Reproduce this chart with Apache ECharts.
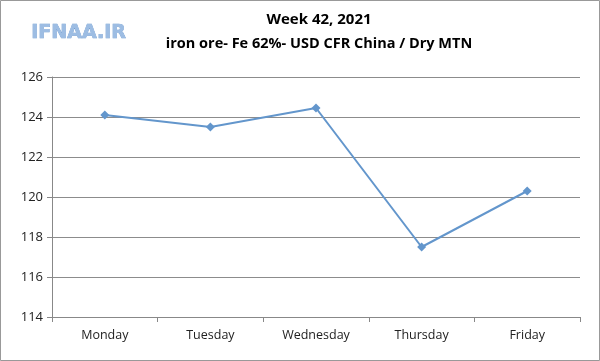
<!DOCTYPE html>
<html><head><meta charset="utf-8">
<script src="https://cdn.jsdelivr.net/npm/echarts@6/dist/echarts.min.js"></script>
<style>html,body{margin:0;padding:0;background:#fff}#c{width:600px;height:361px}</style>
</head><body><div id="c"></div>
<script>
const categories = ['Monday','Tuesday','Wednesday','Thursday','Friday'];
const values = [124.1, 123.5, 124.45, 117.5, 120.3];
const titleText = 'Week 42, 2021';
const subtitleText = 'iron ore- Fe 62%- USD CFR China / Dry MTN';
const logoText = 'IFNAA.IR';

const chart = echarts.init(document.getElementById('c'));
chart.setOption({
  animation:false,
  backgroundColor:'#fff',
  title:{
    text:titleText, subtext:subtitleText, left:314, top:7, textAlign:'center', itemGap:9,
    textStyle:{fontFamily:'Open Sans',fontSize:15,fontWeight:'bold',color:'#000'},
    subtextStyle:{fontFamily:'Open Sans',fontSize:14.5,fontWeight:'bold',color:'#000'}
  },
  graphic:[
    {type:'rect',shape:{x:0.5,y:0.5,width:599,height:360},style:{fill:'none',stroke:'#999',lineWidth:1}},
    {type:'text',left:31,top:23,style:{text:logoText,fontFamily:'DejaVu Sans',fontSize:19,fontWeight:'bold',fill:'#9dbde3',stroke:'#6a96cc',lineWidth:0.6,shadowColor:'rgba(0,0,0,0.25)',shadowOffsetX:1,shadowOffsetY:1,shadowBlur:1}}
  ],
  grid:{left:52,right:20,top:77,bottom:44,containLabel:false},
  xAxis:{
    type:'category',data:categories,boundaryGap:true,
    axisLine:{lineStyle:{color:'#888'}},
    axisTick:{show:true,length:5,lineStyle:{color:'#888'}},
    axisLabel:{color:'#222',fontFamily:'Open Sans',fontSize:12.5,margin:12}
  },
  yAxis:{
    type:'value',min:114,max:126,interval:2,
    axisLine:{show:true,lineStyle:{color:'#888'}},
    axisTick:{show:true,length:5,lineStyle:{color:'#888'}},
    splitLine:{lineStyle:{color:'#8c8c8c',width:1}},
    axisLabel:{color:'#222',fontFamily:'Open Sans',fontSize:13,margin:9}
  },
  series:[{
    type:'line',data:values,
    symbol:'diamond',symbolSize:9,
    lineStyle:{color:'#6396cc',width:2},
    itemStyle:{color:'#6396cc'}
  }]
});
</script></body></html>
